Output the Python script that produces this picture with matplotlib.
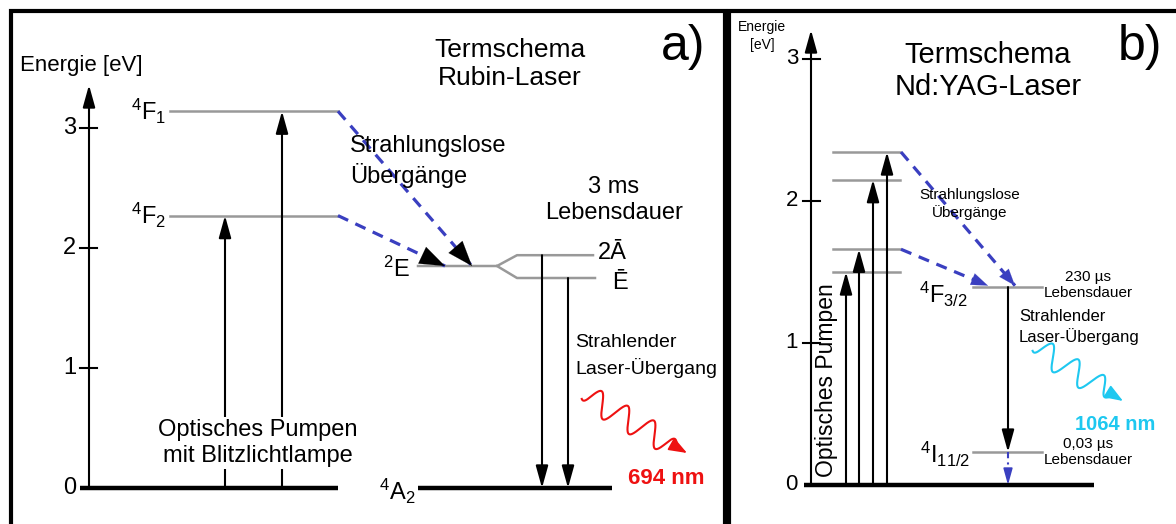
import numpy as np
import matplotlib
matplotlib.use('Agg')
import matplotlib.pyplot as plt

plt.rcParams['font.family'] = ['Liberation Sans', 'DejaVu Sans']
plt.rcParams['mathtext.fontset'] = 'custom'
plt.rcParams['mathtext.rm'] = 'Liberation Sans'

# energies in eV
tick_values = [0, 1, 2, 3]

# a) ruby
ruby_F1 = 3.14
ruby_F2 = 2.27
ruby_E = 1.85
ruby_2A = 1.94
ruby_Ebar = 1.75

# b) Nd:YAG
yag_pump_levels = [1.50, 1.66, 2.15, 2.345]
yag_F32 = 1.394
yag_I112 = 0.232

GREY = '#999999'
BLUE = '#3a3fc0'
CYAN = '#1ec8f0'
RED = '#ee1111'

W, H = 1176, 524
fig = plt.figure(figsize=(W / 100, H / 100), dpi=100)

# frame overlay in pixel coords
ov = fig.add_axes([0, 0, 1, 1])
ov.set_xlim(0, W)
ov.set_ylim(H, 0)
ov.axis('off')
ov.plot([11, 11, 725, 725], [H, 11, 11, H], color='black', lw=3, solid_joinstyle='miter')
ov.plot([729, 729, W + 5], [H, 11, 11], color='black', lw=3, solid_joinstyle='miter')


def arrow(ax, x0, y0, x1, y1, color='black', lw=1.5, ms=15, ls='-'):
    ax.annotate('', xy=(x1, y1), xytext=(x0, y0),
                arrowprops=dict(arrowstyle='-|>,head_length=0.9,head_width=0.25',
                                color=color, lw=lw, ls=ls, mutation_scale=ms,
                                shrinkA=0, shrinkB=0))


def dashed_arrow(ax, x0, y0, x1, y1, pxe, headcolor, ms=30):
    ax.plot([x0, x1], [y0, y1], color=BLUE, lw=2.3, ls=(0, (3.5, 2.5)))
    # short segment for the head direction, in pixels
    dx, dy = x1 - x0, (y1 - y0) * pxe
    n = np.hypot(dx, dy)
    bx, by = x1 - dx / n * 4, y1 - dy / n * 4 / pxe
    ax.annotate('', xy=(x1, y1), xytext=(bx, by),
                arrowprops=dict(arrowstyle='-|>,head_length=0.6,head_width=0.22',
                                color=headcolor, lw=0.1, mutation_scale=ms,
                                shrinkA=0, shrinkB=0))


def wave(ax, p0, p1, pxe, y0pix, color):
    # wavy photon arrow, built in pixel space
    (xa, ya), (xb, yb) = p0, p1
    L = np.hypot(xb - xa, yb - ya)
    ux, uy = (xb - xa) / L, (yb - ya) / L
    t = np.linspace(0, L - 8, 300)
    amp = 12 * np.clip((t + 4) / 10, 0, 1) * np.clip((L - 10 - t) / 12, 0, 1)
    s = amp * np.sin(2 * np.pi * t / 30 + 1.9)
    xs = xa + ux * t - uy * s
    ys = ya + uy * t + ux * s
    ax.plot(xs, (y0pix - ys) / pxe, color=color, lw=1.5)
    ax.annotate('', xy=(xb, (y0pix - yb) / pxe),
                xytext=(xs[-1], (y0pix - ys[-1]) / pxe),
                arrowprops=dict(arrowstyle='-|>,head_length=0.8,head_width=0.3',
                                color=color, lw=1.2, mutation_scale=14,
                                shrinkA=0, shrinkB=0))


# ---------------- panel a ----------------
Y0A, PXA = 488, 120
axa = fig.add_axes([0, 0, 727 / W, 1])
axa.set_xlim(0, 727)
axa.set_ylim(-(H - Y0A) / PXA, Y0A / PXA)
axa.axis('off')


def ea(yp):
    return (Y0A - yp) / PXA


arrow(axa, 89, 0, 89, ea(85))
for v in tick_values[1:]:
    axa.plot([80, 97], [v, v], color='black', lw=1.5)
for v in tick_values:
    axa.text(76, v, str(v), ha='right', va='center', fontsize=17)
axa.text(20, ea(66), 'Energie [eV]', ha='left', va='center', fontsize=16)

axa.plot([80, 338], [0, 0], color='black', lw=3.2, solid_capstyle='butt', zorder=3)
axa.plot([418, 612], [0, 0], color='black', lw=3.2, solid_capstyle='butt', zorder=3)
axa.plot([170, 338], [ruby_F1, ruby_F1], color=GREY, lw=1.8)
axa.plot([170, 338], [ruby_F2, ruby_F2], color=GREY, lw=1.8)
axa.text(166, ruby_F1, r'$\mathregular{^4F_1}$', ha='right', va='center', fontsize=17)
axa.text(166, ruby_F2, r'$\mathregular{^4F_2}$', ha='right', va='center', fontsize=17)

arrow(axa, 225, 0, 225, ruby_F2)
arrow(axa, 282, 0, 282, ruby_F1)
axa.text(258, ea(443), 'Optisches Pumpen\nmit Blitzlichtlampe', ha='center', va='center',
         fontsize=17, linespacing=1.25, zorder=4,
         bbox=dict(facecolor='white', edgecolor='none', pad=1))

axa.plot([418, 497, 517, 593], [ruby_E, ruby_E, ruby_2A, ruby_2A], color=GREY, lw=1.8)
axa.plot([497, 517, 595], [ruby_E, ruby_Ebar, ruby_Ebar], color=GREY, lw=1.8)
axa.text(410, ruby_E - 0.03, r'$\mathregular{^2E}$', ha='right', va='center', fontsize=17)
axa.text(598, ruby_2A + 0.02, '2Ā', ha='left', va='center', fontsize=17)
axa.text(612, ruby_Ebar - 0.04, 'Ē', ha='left', va='center', fontsize=17)
axa.text(415, -0.03, r'$\mathregular{^4A_2}$', ha='right', va='center', fontsize=17)

dashed_arrow(axa, 338, ruby_F1, 472, ruby_E, PXA, 'black')
dashed_arrow(axa, 338, ruby_F2, 445, ruby_E, PXA, 'black')

arrow(axa, 542, ruby_2A, 542, 0)
arrow(axa, 568, ruby_Ebar, 568, 0)

axa.text(510, ea(64), 'Termschema\nRubin-Laser', ha='center', va='center', fontsize=19,
         linespacing=1.2)
axa.text(683, ea(47), 'a)', ha='center', va='center', fontsize=36)
axa.text(350, ea(162), 'Strahlungslose\nÜbergänge', ha='left', va='center', fontsize=17,
         linespacing=1.3)
axa.text(614, ea(200), '3 ms\nLebensdauer', ha='center', va='center', fontsize=17,
         linespacing=1.27)
axa.text(575, ea(356), 'Strahlender\nLaser-Übergang', ha='left', va='center', fontsize=14,
         linespacing=1.45)
wave(axa, (584, 395), (687, 453), PXA, Y0A, RED)
axa.text(628, ea(479), '694 nm', ha='left', va='center', fontsize=16,
         fontweight='bold', color=RED)

# ---------------- panel b ----------------
Y0B, PXB = 485, 142
X0B = 727
axb = fig.add_axes([X0B / W, 0, (W - X0B) / W, 1])
axb.set_xlim(X0B, W)
axb.set_ylim(-(H - Y0B) / PXB, Y0B / PXB)
axb.axis('off')


def eb(yp):
    return (Y0B - yp) / PXB


arrow(axb, 811, 0, 811, eb(30))
for v in tick_values[1:]:
    axb.plot([803, 820], [v, v], color='black', lw=1.5)
for v in tick_values:
    axb.text(798, v, str(v), ha='right', va='center', fontsize=16)
axb.text(762, eb(36), 'Energie\n[eV]', ha='center', va='center', fontsize=10,
         linespacing=1.3)

axb.plot([804, 1094], [0, 0], color='black', lw=3.2, solid_capstyle='butt', zorder=3)
for lv in yag_pump_levels:
    axb.plot([833, 900], [lv, lv], color=GREY, lw=1.8)
for x, lv in zip([846, 859, 873, 887], yag_pump_levels):
    arrow(axb, x, 0, x, lv)
axb.text(826, eb(380), 'Optisches Pumpen', rotation=90, ha='center', va='center',
         fontsize=16.5)

axb.plot([973, 1042], [yag_F32, yag_F32], color=GREY, lw=1.8)
axb.plot([973, 1042], [yag_I112, yag_I112], color=GREY, lw=1.8)
axb.text(968, yag_F32 - 0.05, r'$\mathregular{^4F_{3/2}}$', ha='right', va='center', fontsize=17)
axb.text(970, yag_I112 - 0.02, r'$\mathregular{^4I_{11/2}}$', ha='right', va='center', fontsize=17)

dashed_arrow(axb, 901, yag_pump_levels[3], 1015, yag_F32 + 0.01, PXB, BLUE, ms=20)
dashed_arrow(axb, 901, yag_pump_levels[1], 988, yag_F32 + 0.01, PXB, BLUE, ms=20)

arrow(axb, 1008, yag_F32, 1008, yag_I112)
axb.plot([1008, 1008], [yag_I112, 0.06], color=BLUE, lw=1.5, ls=(0, (3, 2, 1, 2)))
arrow(axb, 1008, 0.08, 1008, 0.0, color=BLUE, lw=1.2, ms=11)

axb.text(988, eb(71), 'Termschema\nNd:YAG-Laser', ha='center', va='center', fontsize=21,
         linespacing=1.2)
axb.text(1140, eb(47), 'b)', ha='center', va='center', fontsize=36)
axb.text(970, eb(204), 'Strahlungslose\nÜbergänge', ha='center', va='center', fontsize=11,
         linespacing=1.3)
axb.text(1088, eb(285), '230 µs\nLebensdauer', ha='center', va='center', fontsize=11,
         linespacing=1.2)
axb.text(1019, eb(327), 'Strahlender\nLaser-Übergang', ha='left', va='center', fontsize=12,
         linespacing=1.3)
wave(axb, (1035, 347), (1123, 401), PXB, Y0B, CYAN)
axb.text(1075, eb(424), '1064 nm', ha='left', va='center', fontsize=14.5,
         fontweight='bold', color=CYAN)
axb.text(1088, eb(452), '0,03 µs\nLebensdauer', ha='center', va='center', fontsize=11,
         linespacing=1.2)

fig.savefig('out.png', dpi=100)
